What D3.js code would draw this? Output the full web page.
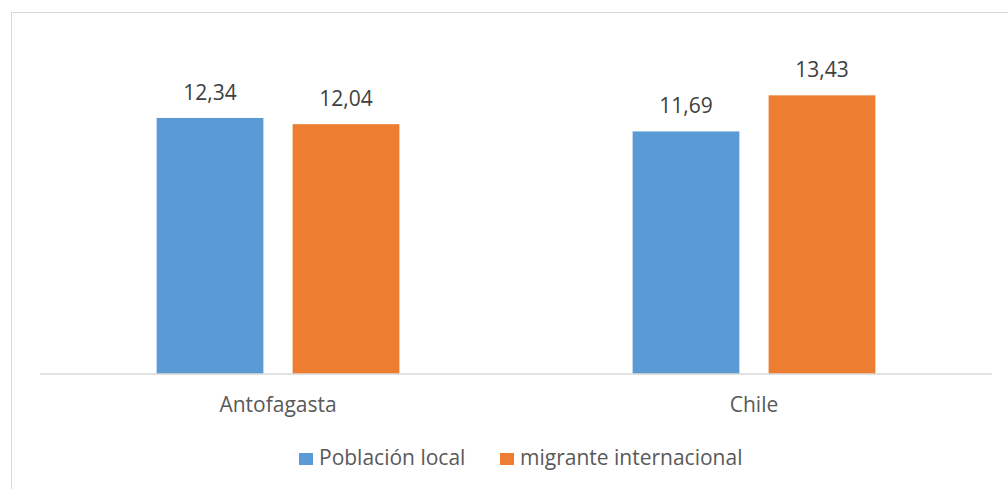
<!DOCTYPE html>
<html>
<head>
<meta charset="utf-8">
<script src="https://cdn.jsdelivr.net/npm/d3@7"></script>
<style>
  html, body { margin: 0; padding: 0; background: #fff; }
  svg { display: block; font-family: "Open Sans", "Noto Sans", sans-serif; }
</style>
</head>
<body>
<svg id="chart" width="1008" height="489"></svg>
<script>
// Categories and series
const categories = ["Antofagasta", "Chile"];
const seriesNames = ["Población local", "migrante internacional"];
const poblacionLocal = [12.34, 11.69];
const migranteInternacional = [12.04, 13.43];
const seriesColors = ["#5B9BD5", "#ED7D31"];

const seriesValues = [poblacionLocal, migranteInternacional];
const rows = categories.map((c, i) => ({
  category: c,
  values: seriesNames.map((s, j) => ({ series: s, value: seriesValues[j][i], color: seriesColors[j] }))
}));

const svg = d3.select("#chart");
const W = 1008, H = 489;
const FS = 21;

// Chart frame (extends past the right and bottom edges)
svg.append("rect")
  .attr("x", 11.5).attr("y", 12.5)
  .attr("width", W + 20).attr("height", H + 20)
  .attr("fill", "#fff").attr("stroke", "#d9d9d9").attr("stroke-width", 1);

const plot = { left: 40, right: 992, top: 42, bottom: 374 };

const x0 = d3.scaleBand()
  .domain(categories)
  .range([plot.left, plot.right])
  .paddingInner(0.49)
  .paddingOuter(0.245);

const x1 = d3.scaleBand()
  .domain(seriesNames)
  .range([0, x0.bandwidth()])
  .paddingInner(0.215);

const y = d3.scaleLinear()
  .domain([0, 16])
  .range([plot.bottom, plot.top]);

const fmt = v => d3.format(".2f")(v).replace(".", ",");

const groups = svg.append("g").selectAll("g")
  .data(rows)
  .join("g")
  .attr("transform", d => `translate(${x0(d.category)},0)`);

groups.selectAll("rect")
  .data(d => d.values)
  .join("rect")
  .attr("x", d => x1(d.series))
  .attr("y", d => y(d.value))
  .attr("width", x1.bandwidth())
  .attr("height", d => y(0) - y(d.value))
  .attr("fill", d => d.color);

groups.selectAll("text.value")
  .data(d => d.values)
  .join("text")
  .attr("class", "value")
  .attr("x", d => x1(d.series) + x1.bandwidth() / 2)
  .attr("y", d => y(d.value) - 18)
  .attr("text-anchor", "middle")
  .attr("font-size", FS)
  .attr("fill", "#404040")
  .text(d => fmt(d.value));

// Category axis
const xAxis = svg.append("g")
  .attr("transform", `translate(0,${plot.bottom})`)
  .call(d3.axisBottom(x0).tickSize(0).tickPadding(0));
xAxis.select(".domain")
  .attr("stroke", "#d9d9d9").attr("stroke-width", 1.5)
  .attr("d", `M${plot.left},0H${plot.right}`);
xAxis.selectAll(".tick text")
  .attr("dy", null)
  .attr("y", 38)
  .attr("font-size", FS)
  .attr("font-family", "\"Open Sans\", \"Noto Sans\", sans-serif")
  .attr("fill", "#595959");

// Legend
const legendItems = [
  { name: seriesNames[0], color: seriesColors[0], x: 299 },
  { name: seriesNames[1], color: seriesColors[1], x: 500 }
];
const legend = svg.append("g");
const li = legend.selectAll("g").data(legendItems).join("g")
  .attr("transform", d => `translate(${d.x},453)`);
li.append("rect").attr("width", 14).attr("height", 12).attr("fill", d => d.color);
li.append("text")
  .attr("x", 20).attr("y", 12)
  .attr("font-size", FS)
  .attr("fill", "#595959")
  .text(d => d.name);
</script>
</body>
</html>
